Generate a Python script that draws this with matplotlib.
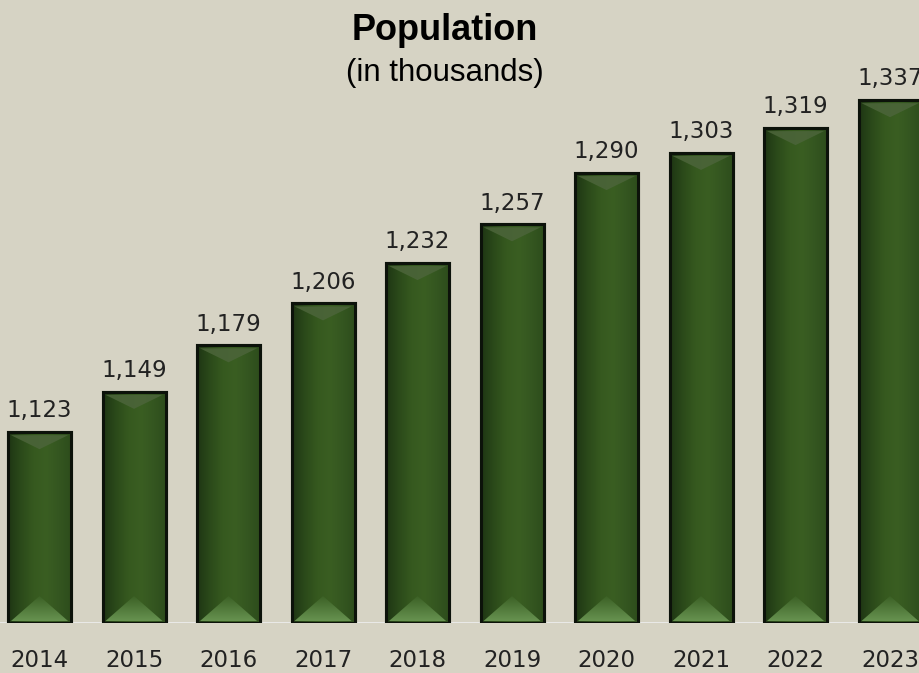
import numpy as np
import matplotlib
matplotlib.use('Agg')
import matplotlib.pyplot as plt
from matplotlib.patches import Polygon
from matplotlib.colors import LinearSegmentedColormap

years = ['2014', '2015', '2016', '2017', '2018', '2019', '2020', '2021', '2022', '2023']
population = [1123, 1149, 1179, 1206, 1232, 1257, 1290, 1303, 1319, 1337]
base = 1000

bg = '#d6d3c4'
plt.rcParams['font.family'] = ['DejaVu Sans']

fig = plt.figure(figsize=(9.19, 6.73), dpi=100, facecolor=bg)
ax = fig.add_axes([-0.0084, 0.0743, 1.0283, 0.8068])
ax.set_facecolor(bg)

x = np.arange(len(years))
heights = [p - base for p in population]
bars = ax.bar(x, heights, width=0.667, bottom=base, color='#32521f',
              edgecolor='#0c120a', linewidth=2.2, zorder=3)
ax.set_xlim(-0.5, len(years) - 0.5)
ax.set_ylim(base, 1350)

# pixel -> data scale
px_y = (1350 - base) / (0.8068 * 673)
px_x = len(years) / (1.0283 * 919)

grad = LinearSegmentedColormap.from_list(
    'g', ['#1f3614', '#2b4a1a', '#36591f', '#3a5e22', '#345620', '#2d4c1c'])
bot_grad = LinearSegmentedColormap.from_list('b', ['#6a9653', '#3c6126'])
for b, p in zip(bars, population):
    x0, w = b.get_x(), b.get_width()
    y0 = b.get_y()
    top = y0 + b.get_height()
    im = ax.imshow(np.linspace(0, 1, 100).reshape(1, -1), cmap=grad, aspect='auto',
                   extent=[x0, x0 + w, y0, top], zorder=3.1)
    im.set_clip_path(b)
    tt = 17 * px_y
    bt = 27 * px_y
    ins = 3 * px_x
    topt = Polygon([[x0 + ins, top - 3 * px_y], [x0 + w - ins, top - 3 * px_y],
                    [x0 + w / 2, top - tt]], closed=True, facecolor='#4b6439',
                   edgecolor='none', alpha=0.9, zorder=3.2)
    ax.add_patch(topt)
    bot = Polygon([[x0 + ins, y0 + 2 * px_y], [x0 + w - ins, y0 + 2 * px_y],
                   [x0 + w / 2, y0 + bt]], closed=True, facecolor='none',
                  edgecolor='none', zorder=3.2)
    ax.add_patch(bot)
    bim = ax.imshow(np.linspace(0, 1, 50).reshape(-1, 1), cmap=bot_grad, aspect='auto',
                    origin='lower', extent=[x0, x0 + w, y0, y0 + bt], zorder=3.2)
    bim.set_clip_path(bot)
    ax.add_patch(plt.Rectangle((x0, y0), w, b.get_height(), fill=False,
                               edgecolor='#0c120a', linewidth=2.2, zorder=3.3))
    ax.annotate(f'{p:,}', (x0 + w / 2, top), xytext=(0, 7),
                textcoords='offset points', ha='center', va='bottom',
                fontsize=16.5, color='#222222', zorder=4)

ax.axhline(base, color='#ececec', linewidth=2, zorder=2)

ax.set_xticks(x)
ax.set_xticklabels(years, fontsize=16.5, color='#222222')
ax.tick_params(axis='x', length=0, pad=19)
ax.set_yticks([])
for s in ax.spines.values():
    s.set_visible(False)

fig.text(0.484, 0.9406, 'Population', ha='center', va='baseline', fontsize=26,
         fontweight='bold', family='Liberation Sans', color='black')
fig.text(0.4845, 0.879, '(in thousands)', ha='center', va='baseline', fontsize=22.5,
         family='Liberation Sans', color='black')

fig.savefig('out.png', dpi=100, facecolor=bg)
